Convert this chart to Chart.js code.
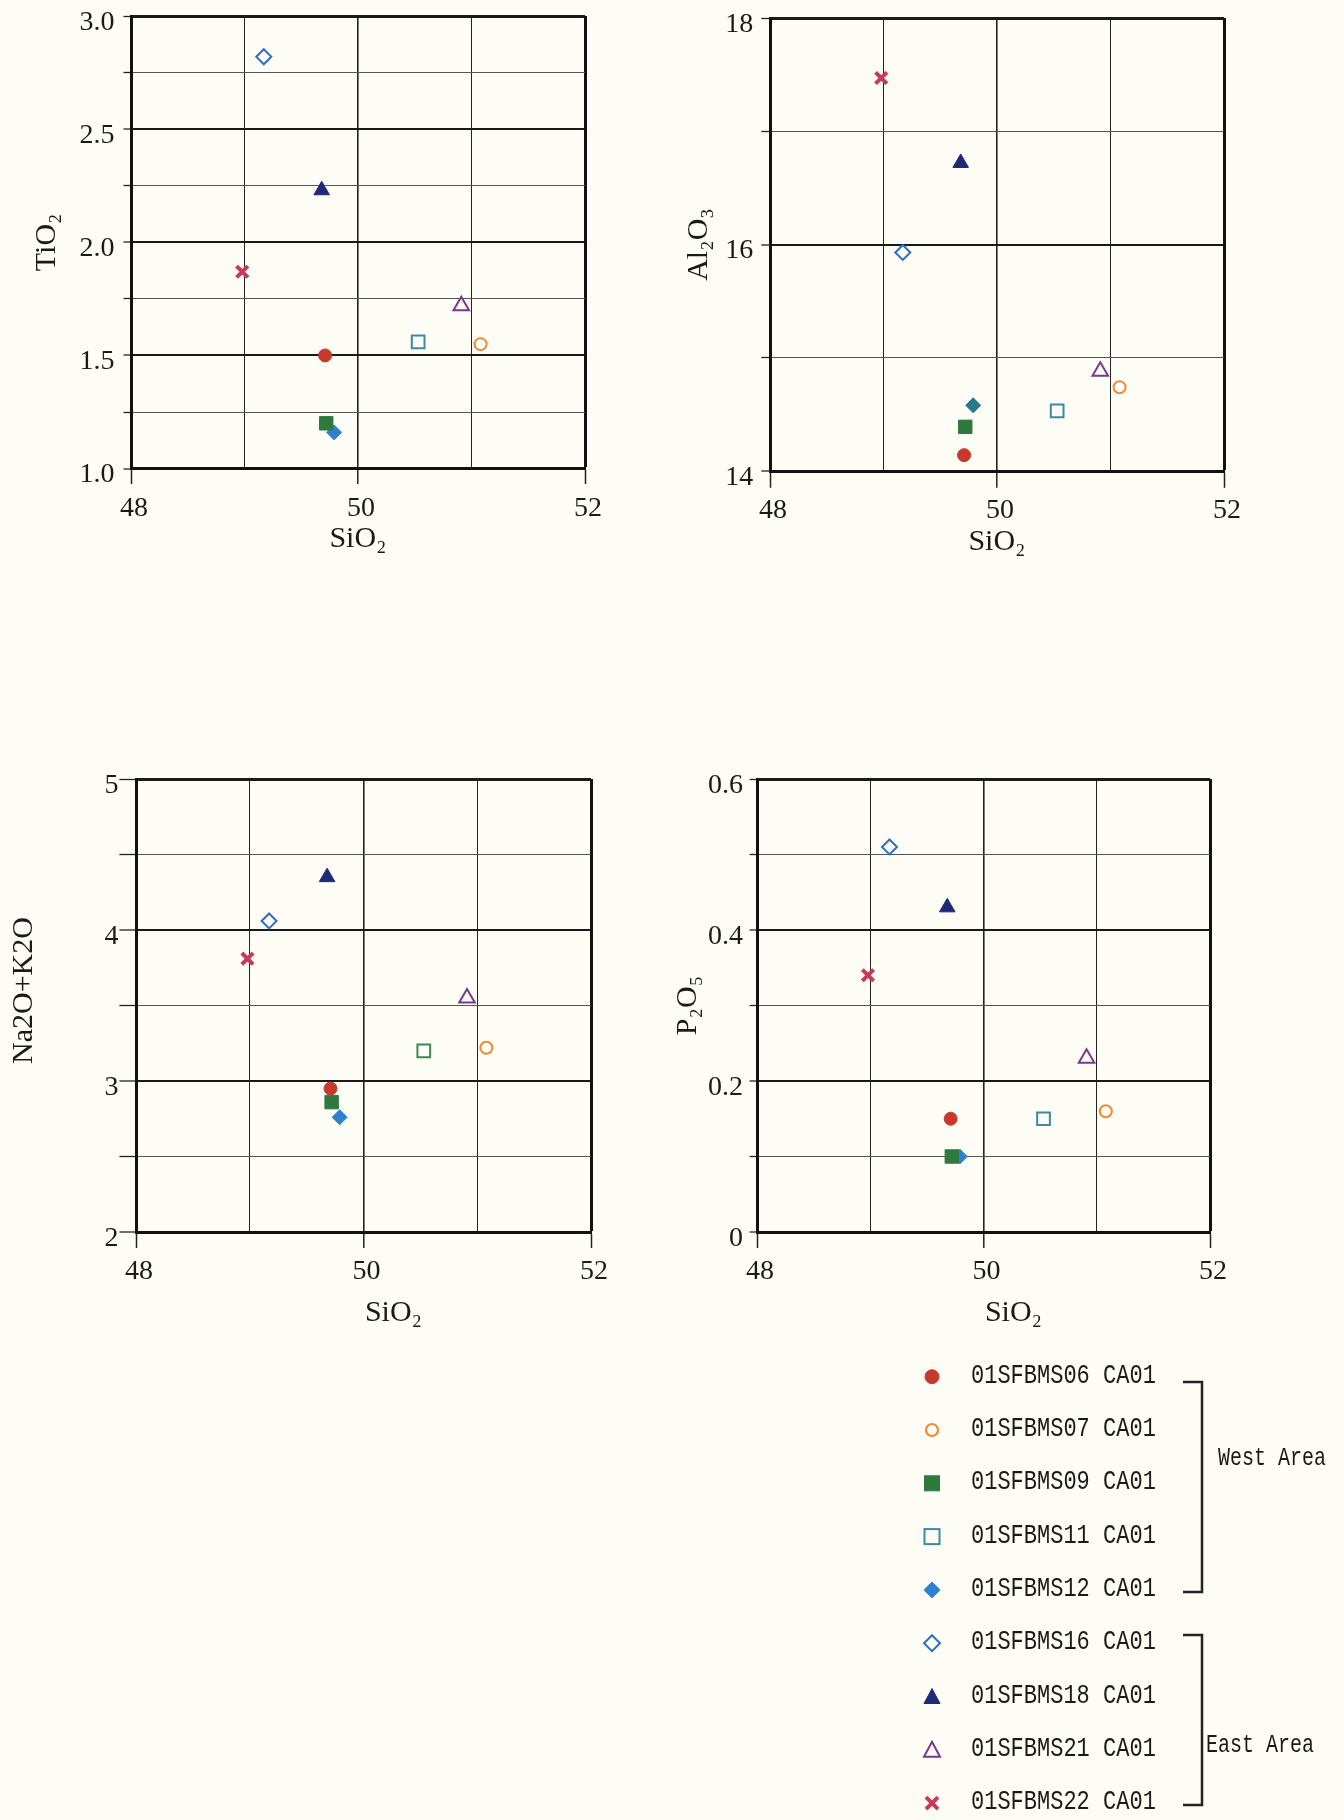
<!DOCTYPE html>
<html>
<head>
<meta charset="utf-8">
<script src="https://cdn.jsdelivr.net/npm/chart.js@4.4.1/dist/chart.umd.min.js"></script>
<style>
	body { margin: 0; background: #fdfdf5; width: 1343px; height: 1820px; position: relative; overflow: hidden; }
	canvas { position: absolute; }
	.row { position: absolute; left: 971px; font-family: 'Liberation Mono', 'DejaVu Sans Mono', monospace; font-size: 22px; color: #1a1a1a; white-space: pre; line-height: 22px; transform: scaleY(1.25); transform-origin: left center; }
	.area { position: absolute; font-family: 'Liberation Mono', 'DejaVu Sans Mono', monospace; font-size: 20px; color: #1a1a1a; white-space: pre; line-height: 20px; transform: scaleY(1.3); transform-origin: left center; }
	svg { position: absolute; left: 0; top: 0; }
</style>
</head>
<body>
<canvas id="ti_chart" width="586" height="581" style="left:29px; top:-24px;"></canvas>
<canvas id="al_chart" width="573" height="582" style="left:681px; top:-22px;"></canvas>
<canvas id="alk_chart" width="615" height="592" style="left:6px; top:739px;"></canvas>
<canvas id="p_chart" width="570" height="592" style="left:670px; top:739px;"></canvas>
<div id="legend"></div>
<script>
const samples = ['01SFBMS06 CA01', '01SFBMS07 CA01', '01SFBMS09 CA01', '01SFBMS11 CA01', '01SFBMS12 CA01',
	'01SFBMS16 CA01', '01SFBMS18 CA01', '01SFBMS21 CA01', '01SFBMS22 CA01'];
const sio2 = [49.71, 51.08, 49.72, 50.53, 49.79, 49.17, 49.68, 50.91, 48.98];
const tio2 = [1.50, 1.55, 1.20, 1.56, 1.16, 2.82, 2.23, 1.72, 1.87];
const al2o3 = [14.14, 14.74, 14.39, 14.53, 14.58, 15.93, 16.72, 14.88, 17.47];
const alkali = [2.95, 3.22, 2.86, 3.20, 2.76, 4.06, 4.35, 3.55, 3.81];
const p2o5 = [0.15, 0.16, 0.10, 0.15, 0.10, 0.51, 0.43, 0.23, 0.34];
const xTickLabels = [48, 50, 52];

// marker style per sample
const markers = [
	{ shape: 'circle', color: '#c8382c', fill: true, r: 6.5 },
	{ shape: 'circle', color: '#f08a30', fill: false, r: 6 },
	{ shape: 'rect', color: '#2e7a3e', fill: true, r: 9.5 },
	{ shape: 'rect', color: '#3a8aa6', fill: false, r: 9 },
	{ shape: 'rectRot', color: '#2e80d0', fill: true, r: 7.5 },
	{ shape: 'rectRot', color: '#2e6ec4', fill: false, r: 7.5 },
	{ shape: 'triangle', color: '#1e2a78', fill: true, r: 9 },
	{ shape: 'triangle', color: '#7a3a8a', fill: false, r: 9 },
	{ shape: 'crossRot', color: '#c83a5a', fill: false, r: 8 },
];

const tickFont = { family: 'Liberation Serif', size: 28 };
const titleFont = { family: 'Liberation Serif', size: 30 };

function createDatasets(yValues, overrides) {
	const sets = [];
	for (let i = 0; i < samples.length; i++) {
		const m = markers[i];
		const color = (overrides && overrides[i]) || m.color;
		sets.push({
			label: samples[i],
			data: [{ x: sio2[i], y: yValues[i] }],
			pointStyle: m.shape,
			pointRadius: m.r,
			pointHoverRadius: m.r,
			borderColor: color,
			backgroundColor: m.fill ? color : 'transparent',
			borderWidth: m.shape == 'crossRot' ? 4 : (m.fill ? 1 : 2),
		});
	}
	return sets;
}

function makeChart(id, yValues, opt) {
	new Chart(document.getElementById(id), {
		type: 'scatter',
		data: { datasets: createDatasets(yValues, opt.overrides) },
		options: {
			responsive: false,
			animation: false,
			layout: { padding: { top: 40, right: 30, left: 0, bottom: 0 } },
			plugins: { legend: { display: false }, tooltip: { enabled: false } },
			scales: {
				x: {
					type: 'linear',
					min: 48,
					max: 52,
					afterFit: (s) => { s.height = opt.xHeight; },
					border: { width: 3, color: '#111' },
					grid: {
						color: (c) => c.tick.value == 52 ? '#111' : '#222',
						lineWidth: (c) => c.tick.value == 52 ? 3 : (c.tick.value == 50 ? 1.6 : 1),
						tickLength: opt.xTick,
						tickWidth: 1.5,
						tickColor: (c) => xTickLabels.includes(c.tick.value) ? '#222' : 'rgba(0,0,0,0)',
					},
					ticks: {
						stepSize: 1,
						autoSkip: false,
						maxRotation: 0,
						padding: opt.xPad,
						labelOffset: 3,
						color: '#1a1a1a',
						font: tickFont,
						callback: (v) => xTickLabels.includes(v) ? String(v) : '',
					},
					title: { display: true, text: opt.xTitle, color: '#1a1a1a', font: titleFont, padding: 0 },
				},
				y: {
					type: 'linear',
					min: opt.min,
					max: opt.max,
					afterFit: (s) => { s.width = opt.yWidth; },
					border: { width: 3, color: '#111' },
					grid: {
						color: (c) => opt.isMajor(c.tick.value) ? '#1a1a1a' : '#555',
						lineWidth: (c) => Math.abs(c.tick.value - opt.max) < 1e-6 ? 3 : (opt.isMajor(c.tick.value) ? 2 : 1),
						tickLength: opt.yTick,
						tickColor: '#222',
						tickWidth: 1.3,
					},
					ticks: {
						stepSize: opt.step,
						autoSkip: false,
						padding: opt.yPad,
						labelOffset: 6.5,
						color: '#1a1a1a',
						font: tickFont,
						callback: (v) => opt.isLabel(v) ? opt.fmt(v) : '',
					},
					title: { display: true, text: opt.title, color: '#1a1a1a', font: titleFont, padding: 0 },
				},
			},
		},
	});
}

makeChart('ti_chart', tio2, {
	min: 1, max: 3, step: 0.25, title: 'TiO₂', xTitle: 'SiO₂',
	yWidth: 102, xHeight: 88.4, yTick: 7.5, yPad: 9, xTick: 15.4, xPad: 8,
	isMajor: (v) => Math.abs(v * 2 - Math.round(v * 2)) < 1e-6,
	isLabel: (v) => Math.abs(v * 2 - Math.round(v * 2)) < 1e-6,
	fmt: (v) => v.toFixed(1),
});

makeChart('al_chart', al2o3, {
	min: 14, max: 18, step: 1, title: 'Al₂O₃', xTitle: 'SiO₂',
	yWidth: 89, xHeight: 89, yTick: 8.7, yPad: 8, xTick: 16.8, xPad: 6.4,
	overrides: { 4: '#267a8c' },
	isMajor: (v) => Math.round(v) % 2 == 0,
	isLabel: (v) => Math.round(v) % 2 == 0,
	fmt: (v) => String(Math.round(v)),
});

makeChart('alk_chart', alkali, {
	min: 2, max: 5, step: 0.5, title: '\u2003Na2O+K2O', xTitle: '\u2003\u2003SiO₂',
	yWidth: 130, xHeight: 99, yTick: 16.6, yPad: 1, xTick: 16, xPad: 7,
	overrides: { 3: '#3a8a4e' },
	isMajor: (v) => Math.abs(v - Math.round(v)) < 1e-6,
	isLabel: (v) => Math.abs(v - Math.round(v)) < 1e-6,
	fmt: (v) => String(Math.round(v)),
});

makeChart('p_chart', p2o5, {
	min: 0, max: 0.6, step: 0.1, title: 'P₂O₅', xTitle: '\u2003\u2003SiO₂',
	yWidth: 87, xHeight: 99, yTick: 7.4, yPad: 6.5, xTick: 16, xPad: 7,
	isMajor: (v) => Math.round(v * 10) % 2 == 0,
	isLabel: (v) => Math.round(v * 10) % 2 == 0,
	fmt: (v) => Math.round(v * 10) == 0 ? '0' : v.toFixed(1),
});

// legend with west / east brackets
function markerSvg(m, cx, cy) {
	const c = m.color;
	const f = m.fill ? c : 'none';
	if (m.shape == 'circle') return `<circle cx="${cx}" cy="${cy}" r="${m.fill ? 7 : 6}" fill="${f}" stroke="${c}" stroke-width="${m.fill ? 1 : 2.2}"/>`;
	if (m.shape == 'rect') return `<rect x="${cx - 7.5}" y="${cy - 7.5}" width="15" height="15" fill="${f}" stroke="${c}" stroke-width="${m.fill ? 1 : 2}"/>`;
	if (m.shape == 'rectRot') return `<path d="M${cx} ${cy - 8} L${cx + 8} ${cy} L${cx} ${cy + 8} L${cx - 8} ${cy} Z" fill="${f}" stroke="${c}" stroke-width="${m.fill ? 1 : 2}"/>`;
	if (m.shape == 'triangle') return `<path d="M${cx} ${cy - 8} L${cx + 8} ${cy + 7} L${cx - 8} ${cy + 7} Z" fill="${f}" stroke="${c}" stroke-width="${m.fill ? 1 : 2}"/>`;
	return `<path d="M${cx - 6} ${cy - 6} L${cx + 6} ${cy + 6} M${cx + 6} ${cy - 6} L${cx - 6} ${cy + 6}" stroke="${c}" stroke-width="4"/>`;
}

const legendRowY = 1376.7;
const legendGap = 53.3;
let svg = '<svg width="1343" height="1820">';
let html = '';
for (let i = 0; i < samples.length; i++) {
	const cy = legendRowY + i * legendGap;
	svg += markerSvg(markers[i], 932, cy);
	html += `<div class="row" style="top:${cy - 11}px;">${samples[i]}</div>`;
}
svg += '<path d="M1183 1382 H1202 V1592 H1183" fill="none" stroke="#222" stroke-width="2.5"/>';
svg += '<path d="M1183 1635 H1202 V1805 H1183" fill="none" stroke="#222" stroke-width="2.5"/>';
svg += '</svg>';
html += '<div class="area" style="left:1218px; top:1448px;">West Area</div>';
html += '<div class="area" style="left:1206px; top:1735px;">East Area</div>';
document.getElementById('legend').innerHTML = svg + html;
</script>
</body>
</html>
